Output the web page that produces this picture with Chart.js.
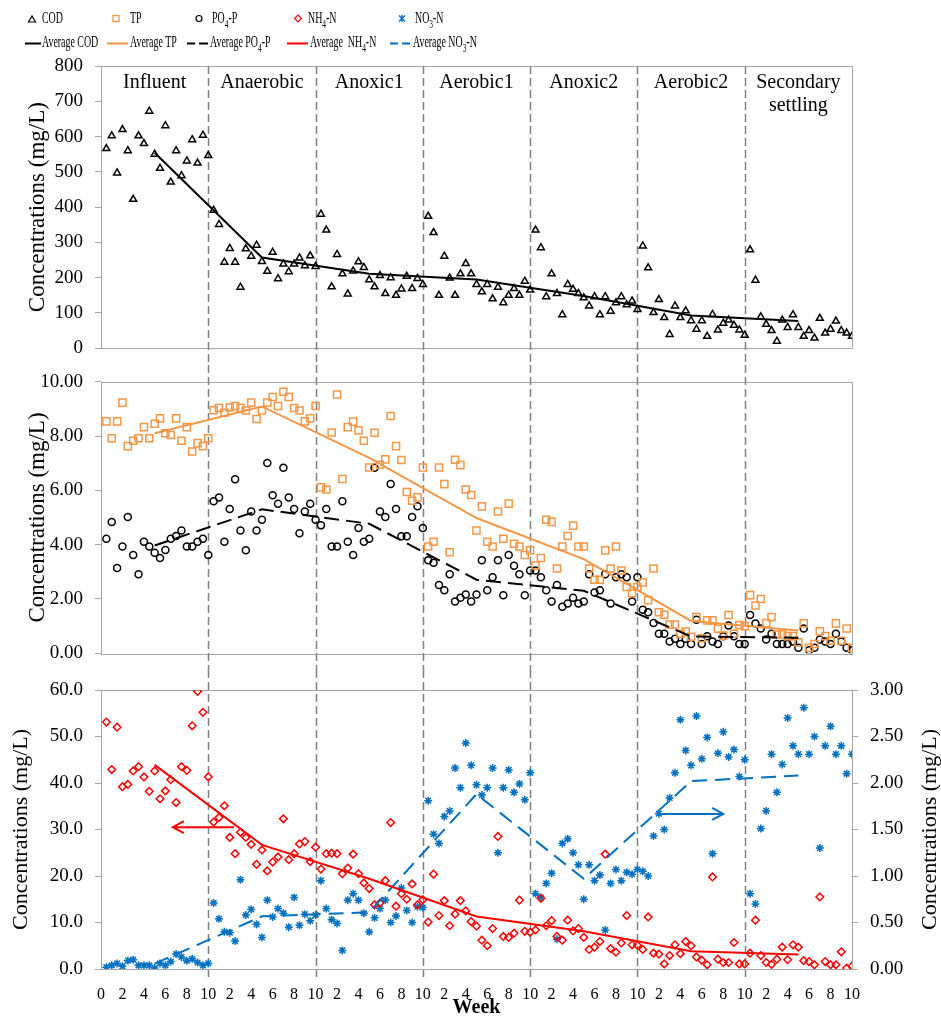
<!DOCTYPE html>
<html>
<head>
<meta charset="utf-8">
<script src="https://cdn.jsdelivr.net/npm/chart.js@4.4.1/dist/chart.umd.min.js"></script>
<style>
  body { margin: 0; background: #fff; }
  #wrap { position: relative; width: 941px; height: 1019px; font-family: 'Liberation Serif', 'Times New Roman', serif; }
  canvas { position: absolute; left: 0; }
  .lg { position: absolute; font-size: 16px; line-height: 1; white-space: nowrap; transform: scaleX(0.62); transform-origin: 0 0; }
  .lg sub { font-size: 12px; vertical-align: -5px; line-height: 0; }
</style>
</head>
<body>
<div id="wrap">
  <canvas id="cod" width="941" height="365" style="top:0"></canvas>
  <canvas id="phos" width="941" height="305" style="top:365px"></canvas>
  <canvas id="nitro" width="941" height="349" style="top:670px"></canvas>

  <!-- legend: two rows, symbols in svg, labels as text -->
  <svg style="position:absolute;left:0;top:0" width="500" height="56">
    <polygon points="28.5,22 35.5,22 32,16" fill="none" stroke="#000" stroke-width="1.2"/>
    <rect x="113" y="15.5" width="6" height="6" fill="none" stroke="#f79646" stroke-width="1.3"/>
    <circle cx="199" cy="18.5" r="3" fill="none" stroke="#000" stroke-width="1.2"/>
    <polygon points="298,15 301.5,18.5 298,22 294.5,18.5" fill="none" stroke="#ff0000" stroke-width="1.2"/>
    <g stroke="#0070c0" stroke-width="1.4">
      <line x1="399" y1="15.5" x2="405" y2="21.5"/><line x1="405" y1="15.5" x2="399" y2="21.5"/>
      <line x1="402" y1="15" x2="402" y2="22"/>
    </g>
    <g stroke-width="2">
      <line x1="25" y1="43.5" x2="41" y2="43.5" stroke="#000"/>
      <line x1="107" y1="43.5" x2="128" y2="43.5" stroke="#f79646"/>
      <line x1="187" y1="43.5" x2="195" y2="43.5" stroke="#000"/>
      <line x1="199" y1="43.5" x2="208" y2="43.5" stroke="#000"/>
      <line x1="287" y1="43.5" x2="308" y2="43.5" stroke="#ff0000"/>
      <line x1="390" y1="43.5" x2="398" y2="43.5" stroke="#0070c0"/>
      <line x1="402" y1="43.5" x2="410" y2="43.5" stroke="#0070c0"/>
    </g>
  </svg>
  <div class="lg" style="left:42px;top:10px">COD</div>
  <div class="lg" style="left:130px;top:10px">TP</div>
  <div class="lg" style="left:212px;top:10px">PO<sub>4</sub>-P</div>
  <div class="lg" style="left:308px;top:10px">NH<sub>4</sub>-N</div>
  <div class="lg" style="left:415px;top:10px">NO<sub>3</sub>-N</div>
  <div class="lg" style="left:42px;top:34px">Average COD</div>
  <div class="lg" style="left:130px;top:34px">Average TP</div>
  <div class="lg" style="left:210px;top:34px">Average PO<sub>4</sub>-P</div>
  <div class="lg" style="left:310px;top:34px">Average&nbsp; NH<sub>4</sub>-N</div>
  <div class="lg" style="left:413px;top:34px">Average NO<sub>3</sub>-N</div>
</div>

<script>
const FONT = "'Liberation Serif', 'Times New Roman', serif";
Chart.defaults.font.family = FONT;
Chart.defaults.color = '#000';
Chart.defaults.animation = false;

const STAGES = ['Influent', 'Anaerobic', 'Anoxic1', 'Aerobic1', 'Anoxic2', 'Aerobic2', ['Secondary', 'settling']];
const STAGE_START = [0, 10, 20, 30, 40, 50, 60];
const WEEK_IN_STAGE = [0.5, 1, 1.5, 2, 2.5, 3, 3.5, 4, 4.5, 5, 5.5, 6, 6.5, 7, 7.5, 8, 8.5, 9, 9.5, 10];
const AVG_WEEK = [5, 15, 25, 35, 45, 55, 65];

// one row of 20 samples per stage
const COD = [
  566, 602, 497, 620, 560, 422, 602, 580, 672, 550, 510, 631, 471, 560, 489, 531, 591, 525, 604, 546,
  391, 351, 244, 283, 244, 173, 282, 261, 292, 246, 218, 272, 197, 239, 217, 239, 256, 234, 262, 232,
  380, 335, 174, 266, 211, 154, 219, 245, 229, 194, 174, 206, 155, 200, 150, 168, 204, 169, 198, 181,
  374, 328, 150, 261, 199, 150, 211, 240, 211, 181, 160, 181, 140, 173, 129, 150, 169, 150, 190, 165,
  335, 285, 146, 211, 155, 95, 181, 167, 155, 143, 120, 146, 95, 146, 105, 129, 146, 123, 134, 110,
  290, 228, 101, 138, 87, 39, 120, 87, 106, 78, 54, 78, 34, 96, 52, 71, 80, 65, 52, 37,
  279, 193, 89, 68, 50, 20, 80, 59, 95, 59, 34, 50, 29, 85, 43, 54, 77, 50, 43, 34
];
const COD_AVG = [554, 257, 211, 195, 148, 93, 77];

const TP = [
  8.54, 7.92, 8.54, 9.23, 7.63, 7.83, 7.92, 8.33, 7.92, 8.45, 8.65, 8.10, 8.04, 8.65, 7.83, 8.33, 7.43, 7.74, 7.63, 7.92,
  8.95, 9.03, 8.86, 9.05, 9.11, 9.03, 8.94, 9.23, 8.63, 8.94, 9.23, 9.44, 9.11, 9.63, 9.44, 9.03, 8.94, 8.54, 8.65, 9.11,
  6.11, 6.03, 8.13, 9.53, 6.42, 8.33, 8.53, 8.21, 7.83, 6.84, 8.12, 6.94, 7.14, 8.74, 7.63, 7.12, 5.94, 5.62, 5.74, 6.84,
  3.93, 4.11, 6.84, 6.23, 3.72, 7.13, 6.93, 6.03, 5.83, 4.52, 5.41, 4.11, 3.93, 5.22, 4.22, 5.51, 4.03, 3.93, 3.62, 3.79,
  3.23, 3.51, 4.92, 4.84, 3.12, 3.93, 4.32, 4.70, 3.93, 3.93, 3.12, 2.71, 2.71, 3.79, 3.12, 3.93, 3.05, 2.44, 2.21, 2.44,
  2.61, 1.95, 3.12, 1.51, 1.42, 1.06, 1.06, 0.72, 0.80, 0.61, 1.33, 0.55, 1.21, 1.21, 0.90, 0.65, 1.41, 0.72, 1.04, 1.00,
  2.14, 1.76, 2.00, 1.11, 1.33, 0.69, 0.69, 0.63, 0.63, 0.40, 1.10, 0.20, 0.34, 0.81, 0.63, 0.46, 1.10, 0.46, 0.91, 0.20
];
const TP_AVG = [8.10, 9.09, 7.20, 4.98, 3.47, 1.19, 0.84];

const PO4 = [
  4.22, 4.83, 3.14, 3.93, 5.02, 3.62, 2.91, 4.11, 3.93, 3.70, 3.51, 3.80, 4.22, 4.32, 4.52, 3.93, 3.93, 4.11, 4.22, 3.62,
  5.60, 5.74, 4.11, 5.31, 6.41, 4.52, 3.79, 5.22, 4.52, 4.92, 7.01, 5.82, 5.51, 6.83, 5.74, 5.31, 4.42, 5.22, 5.51, 4.92,
  4.71, 5.31, 3.93, 3.93, 5.60, 4.11, 3.62, 4.61, 4.11, 4.22, 6.83, 5.22, 5.02, 6.23, 5.31, 4.31, 4.31, 5.02, 5.41, 4.61,
  3.43, 3.33, 2.51, 2.32, 2.91, 1.91, 2.04, 2.16, 1.91, 2.16, 3.43, 2.32, 2.80, 3.43, 2.14, 3.62, 3.22, 2.91, 2.14, 3.05,
  3.05, 2.80, 2.32, 1.91, 2.51, 1.71, 1.83, 2.04, 1.83, 1.91, 2.91, 2.24, 2.32, 2.91, 1.83, 2.80, 2.91, 2.80, 1.91, 2.80,
  1.60, 1.51, 1.11, 0.72, 0.72, 0.43, 0.53, 0.34, 0.53, 0.34, 1.23, 0.34, 0.63, 0.43, 0.34, 0.63, 1.02, 0.63, 0.34, 0.34,
  1.41, 1.10, 0.91, 0.51, 0.72, 0.34, 0.34, 0.34, 0.43, 0.20, 0.91, 0.11, 0.20, 0.51, 0.43, 0.34, 0.72, 0.43, 0.20, 0.11
];
const PO4_AVG = [3.97, 5.30, 4.77, 2.71, 2.30, 0.62, 0.57];

const NH4 = [
  53.1, 42.9, 52.0, 39.2, 39.7, 42.6, 43.5, 41.3, 38.2, 42.6, 36.6, 38.3, 40.7, 35.8, 43.5, 42.7, 52.3, 59.7, 55.2, 41.3,
  31.6, 32.6, 35.1, 28.3, 24.8, 29.4, 28.3, 26.8, 22.5, 25.6, 21.1, 23.0, 24.1, 32.3, 23.5, 24.8, 26.9, 27.4, 23.1, 26.2,
  21.5, 24.8, 24.9, 24.8, 20.5, 21.7, 24.7, 20.5, 18.5, 17.3, 13.8, 14.2, 19.0, 31.5, 13.5, 16.2, 15.0, 18.3, 13.8, 14.9,
  10.1, 20.4, 11.5, 14.7, 9.3, 11.8, 14.7, 12.5, 10.2, 9.2, 6.2, 5.0, 8.7, 28.5, 7.0, 6.8, 7.7, 14.8, 8.1, 7.9,
  8.4, 15.2, 9.3, 10.4, 7.0, 6.2, 10.5, 8.2, 8.7, 6.8, 4.2, 4.7, 5.9, 24.7, 4.4, 3.6, 5.6, 11.5, 5.2, 5.1,
  4.2, 11.2, 3.4, 3.2, 1.1, 2.9, 5.2, 3.3, 5.9, 5.0, 2.6, 1.9, 0.9, 19.8, 2.1, 1.4, 1.4, 5.7, 1.1, 1.1,
  3.4, 10.5, 2.9, 1.4, 1.0, 2.1, 4.7, 2.0, 5.2, 4.7, 1.8, 1.6, 0.9, 15.5, 1.6, 0.9, 0.9, 3.7, 0.2, 0.6
];
const NH4_AVG = [43.9, 26.7, 19.4, 11.3, 8.1, 3.8, 3.1];

const NO3 = [
  0.02, 0.04, 0.06, 0.03, 0.09, 0.10, 0.04, 0.04, 0.04, 0.01, 0.06, 0.04, 0.08, 0.16, 0.13, 0.09, 0.11, 0.07, 0.04, 0.06,
  0.71, 0.54, 0.40, 0.39, 0.30, 0.96, 0.58, 0.64, 0.48, 0.34, 0.74, 0.56, 0.65, 0.60, 0.45, 0.77, 0.47, 0.59, 0.52, 0.58,
  0.95, 0.65, 0.53, 0.49, 0.20, 0.74, 0.81, 0.74, 0.60, 0.40, 0.55, 0.65, 0.74, 0.50, 0.57, 0.87, 0.63, 0.50, 0.67, 0.66,
  1.81, 1.45, 1.35, 1.64, 1.70, 2.16, 1.95, 2.43, 2.19, 1.98, 1.87, 1.95, 2.16, 1.25, 1.95, 2.14, 1.90, 1.99, 1.82, 2.11,
  0.81, 0.77, 0.92, 1.03, 0.32, 1.35, 1.40, 1.25, 1.12, 0.75, 1.12, 0.95, 1.01, 0.42, 0.92, 1.07, 0.95, 1.04, 1.02, 1.07,
  1.05, 1.00, 1.43, 1.67, 1.50, 1.84, 2.11, 2.68, 2.35, 2.19, 2.72, 2.26, 2.49, 1.24, 2.32, 2.55, 2.28, 2.36, 2.07, 2.25,
  0.81, 0.70, 1.51, 1.70, 2.31, 1.90, 2.20, 2.70, 2.40, 2.31, 2.81, 2.31, 2.50, 1.30, 2.40, 2.61, 2.31, 2.40, 2.10, 2.31
];
const NO3_AVG = [0.057, 0.566, 0.61, 1.88, 0.97, 2.02, 2.08];

// removal-direction arrows in the bottom panel: [week, value] pairs, arrow head at `to`
const ARROWS = [
  { axis: 'y', from: [12.4, 30.5], to: [6.7, 30.5], color: '#ff0000' },
  { axis: 'y2', from: [51.8, 1.667], to: [58.0, 1.667], color: '#0070c0' },
];

const ORANGE = '#f79646';
const RED = '#ff0000';
const BLUE = '#0070c0';
const FRAME = '#a6a6a6';

const WEEKS = STAGE_START.flatMap(s => WEEK_IN_STAGE.map(w => s + w));
const points = (values) => values.map((v, i) => ({ x: WEEKS[i], y: v }));
const avgPoints = (values) => values.map((v, i) => ({ x: AVG_WEEK[i], y: v }));

function scatterSet(label, values, style, color, radius, yAxisID = 'y') {
    return {
        type: 'scatter', label, data: points(values), yAxisID,
        pointStyle: style, pointRadius: radius, pointBorderWidth: 1.5,
        pointBorderColor: color, pointBackgroundColor: 'rgba(0,0,0,0)', showLine: false,
    };
}

function avgSet(label, values, color, dash, yAxisID = 'y') {
    return {
        type: 'line', label, data: avgPoints(values), yAxisID,
        borderColor: color, borderWidth: 2, borderDash: dash,
        pointRadius: 0, fill: false, tension: 0,
    };
}

function xScale(showLabels) {
    return {
        type: 'linear', min: 0, max: 70, display: showLabels,
        grid: { display: false }, border: { display: false },
        ticks: {
            stepSize: 2, autoSkip: false, maxRotation: 0, padding: 8, font: { size: 16 },
            callback: v => (v === 0 ? '0' : (v % 10 === 0 ? '10' : String(v % 10))),
        },
        title: { display: showLabels, text: 'Week', font: { size: 20, weight: 'bold', lineHeight: 1 }, padding: { top: 0, bottom: 1 } },
        afterFit: s => { if (showLabels) s.height = 50; },
    };
}

function yScale(o) {
    return {
        type: 'linear', position: o.position || 'left', min: o.min, max: o.max,
        grid: { drawOnChartArea: false, drawTicks: true, tickLength: 6, color: FRAME, lineWidth: 1 },
        border: { display: false },
        ticks: { stepSize: o.step, padding: 12, font: { size: 19, lineHeight: 0.5 }, callback: v => v.toFixed(o.dec) },
        title: { display: !!o.title, text: 'Concentrations (mg/L)', font: { size: o.tsize || 22, lineHeight: 1 }, padding: { top: o.tpad || 0, bottom: 0 } },
        afterFit: s => { s.width = o.width; },
    };
}

// dashed stage boundaries + grey plot frame; top/bottom give how far the dashes run
function framePlugin(top, bottom) {
    return {
        id: 'frame',
        beforeDatasetsDraw(chart) {
            const { ctx, chartArea: a, scales: { x } } = chart;
            ctx.save();
            ctx.strokeStyle = FRAME;
            ctx.lineWidth = 1;
            ctx.strokeRect(Math.round(a.left) + 0.5, Math.round(a.top) + 0.5, Math.round(a.width), Math.round(a.height));
            ctx.strokeStyle = '#808080';
            ctx.lineWidth = 1.5;
            ctx.setLineDash([8, 4]);
            STAGE_START.slice(1).forEach(s => {
                const px = Math.round(x.getPixelForValue(s)) + 0.5;
                ctx.beginPath();
                ctx.moveTo(px, top(chart));
                ctx.lineTo(px, bottom(chart));
                ctx.stroke();
            });
            ctx.restore();
        },
    };
}

const stageLabels = {
    id: 'stageLabels',
    afterDraw(chart) {
        const { ctx, scales: { x } } = chart;
        ctx.save();
        ctx.font = `20px ${FONT}`;
        ctx.fillStyle = '#000';
        ctx.textAlign = 'center';
        ctx.textBaseline = 'middle';
        STAGES.forEach((name, i) => {
            const cx = x.getPixelForValue(STAGE_START[i] + 5);
            const lines = Array.isArray(name) ? name : [name];
            lines.forEach((t, j) => ctx.fillText(t, cx, 83 + j * 23));
        });
        ctx.restore();
    },
};

const arrows = {
    id: 'arrows',
    afterDatasetsDraw(chart) {
        const { ctx, scales } = chart;
        ctx.save();
        ctx.lineWidth = 2;
        ARROWS.forEach(a => {
            const y = scales[a.axis];
            const x0 = scales.x.getPixelForValue(a.from[0]), y0 = y.getPixelForValue(a.from[1]);
            const x1 = scales.x.getPixelForValue(a.to[0]), y1 = y.getPixelForValue(a.to[1]);
            const dir = Math.sign(x1 - x0);
            ctx.strokeStyle = a.color;
            ctx.beginPath();
            ctx.moveTo(x0, y0);
            ctx.lineTo(x1, y1);
            ctx.moveTo(x1 - dir * 11, y1 - 6);
            ctx.lineTo(x1, y1);
            ctx.lineTo(x1 - dir * 11, y1 + 6);
            ctx.stroke();
        });
        ctx.restore();
    },
};

// right-hand title reads bottom-to-top like the left one
const rightTitle = {
    id: 'rightTitle',
    afterDraw(chart) {
        const { ctx, chartArea: a } = chart;
        ctx.save();
        ctx.translate(930, (a.top + a.bottom) / 2);
        ctx.rotate(-Math.PI / 2);
        ctx.font = `22px ${FONT}`;
        ctx.fillStyle = '#000';
        ctx.textAlign = 'center';
        ctx.textBaseline = 'middle';
        ctx.fillText('Concentrations (mg/L)', 0, 0);
        ctx.restore();
    },
};

const base = {
    responsive: false,
    plugins: { legend: { display: false }, tooltip: { enabled: false } },
};

new Chart(document.getElementById('cod'), {
    type: 'scatter',
    data: {
        datasets: [
            avgSet('Average COD', COD_AVG, '#000', []),
            scatterSet('COD', COD, 'triangle', '#000', 4),
        ],
    },
    options: {
        ...base,
        layout: { padding: { top: 66, bottom: 14, left: 0, right: 89 } },
        scales: {
            x: xScale(false),
            y: yScale({ min: 0, max: 800, step: 100, dec: 0, title: true, tsize: 23, tpad: 26, width: 101 }),
        },
    },
    plugins: [framePlugin(c => c.chartArea.top, c => c.height), stageLabels],
});

new Chart(document.getElementById('phos'), {
    type: 'scatter',
    data: {
        datasets: [
            avgSet('Average TP', TP_AVG, ORANGE, []),
            avgSet('Average PO4-P', PO4_AVG, '#000', [15, 7]),
            scatterSet('TP', TP, 'rect', ORANGE, 5),
            scatterSet('PO4-P', PO4, 'circle', '#000', 3.5),
        ],
    },
    options: {
        ...base,
        layout: { padding: { top: 13, bottom: 6, left: 0, right: 89 } },
        scales: {
            x: xScale(false),
            y: yScale({ min: 0, max: 10, step: 2, dec: 2, title: true, tsize: 23, tpad: 26, width: 101 }),
        },
    },
    plugins: [framePlugin(() => 0, c => c.height)],
});

new Chart(document.getElementById('nitro'), {
    type: 'scatter',
    data: {
        datasets: [
            avgSet('Average NH4-N', NH4_AVG, RED, []),
            avgSet('Average NO3-N', NO3_AVG, BLUE, [15, 8], 'y2'),
            scatterSet('NH4-N', NH4, 'rectRot', RED, 3.8),
            scatterSet('NO3-N', NO3, 'star', BLUE, 4, 'y2'),
        ],
    },
    options: {
        ...base,
        layout: { padding: { top: 20, bottom: 0, left: 0, right: 0 } },
        scales: {
            x: xScale(true),
            y: yScale({ min: 0, max: 60, step: 10, dec: 1, title: true, tsize: 22, tpad: 10, width: 101 }),
            y2: yScale({ position: 'right', min: 0, max: 3, step: 0.5, dec: 2, title: false, width: 89 }),
        },
    },
    plugins: [framePlugin(() => 0, c => c.chartArea.bottom + 8), arrows, rightTitle],
});
</script>
</body>
</html>
